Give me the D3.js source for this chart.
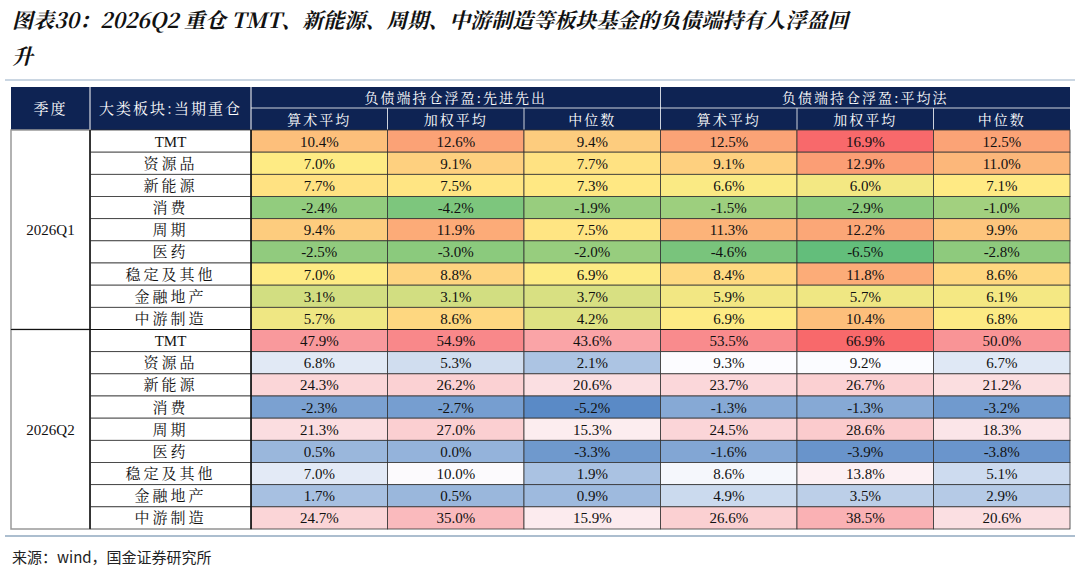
<!DOCTYPE html>
<html><head><meta charset="utf-8">
<script src="https://cdn.jsdelivr.net/npm/d3@7"></script>
<style>body{margin:0;background:#fff}</style>
</head><body>
<svg id="c" width="1080" height="571"></svg>
<script>
// table data
var quarters = ["2026Q1", "2026Q2"];
var sectors = ["TMT", "资源品", "新能源", "消费", "周期", "医药", "稳定及其他", "金融地产", "中游制造"];
var groupHeads = ["负债端持仓浮盈:先进先出", "负债端持仓浮盈:平均法"];
var subHeads = ["算术平均", "加权平均", "中位数", "算术平均", "加权平均", "中位数"];
var q1Values = [
  [10.4, 12.6, 9.4, 12.5, 16.9, 12.5],
  [7.0, 9.1, 7.7, 9.1, 12.9, 11.0],
  [7.7, 7.5, 7.3, 6.6, 6.0, 7.1],
  [-2.4, -4.2, -1.9, -1.5, -2.9, -1.0],
  [9.4, 11.9, 7.5, 11.3, 12.2, 9.9],
  [-2.5, -3.0, -2.0, -4.6, -6.5, -2.8],
  [7.0, 8.8, 6.9, 8.4, 11.8, 8.6],
  [3.1, 3.1, 3.7, 5.9, 5.7, 6.1],
  [5.7, 8.6, 4.2, 6.9, 10.4, 6.8]
];
var q2Values = [
  [47.9, 54.9, 43.6, 53.5, 66.9, 50.0],
  [6.8, 5.3, 2.1, 9.3, 9.2, 6.7],
  [24.3, 26.2, 20.6, 23.7, 26.7, 21.2],
  [-2.3, -2.7, -5.2, -1.3, -1.3, -3.2],
  [21.3, 27.0, 15.3, 24.5, 28.6, 18.3],
  [0.5, 0.0, -3.3, -1.6, -3.9, -3.8],
  [7.0, 10.0, 1.9, 8.6, 13.8, 5.1],
  [1.7, 0.5, 0.9, 4.9, 3.5, 2.9],
  [24.7, 35.0, 15.9, 26.6, 38.5, 20.6]
];

var svg = d3.select("#c");
var font = "'Liberation Serif','Noto Sans CJK SC',serif";
var cjk = "'Noto Serif CJK SC','Noto Sans CJK SC',serif";
var navy = "#0e2353";

// title
svg.append("text").attr("x", 12).attr("y", 28).attr("font-size", 21).attr("font-weight", "bold")
  .attr("font-style", "italic").attr("font-family", cjk).attr("fill", "#111")
  .text("图表30：2026Q2 重仓 TMT、新能源、周期、中游制造等板块基金的负债端持有人浮盈回");
svg.append("text").attr("x", 12).attr("y", 64).attr("font-size", 21).attr("font-weight", "bold")
  .attr("font-style", "italic").attr("font-family", cjk).attr("fill", "#111").text("升");
svg.append("line").attr("x1", 5).attr("x2", 1075).attr("y1", 80).attr("y2", 80)
  .attr("stroke", "#b8c8d8").attr("stroke-width", 1.5);

// layout scales
var left = 11, right = 1070, colStart = 251;
var xCol = d3.scaleLinear().domain([0, 6]).range([colStart, right]);
var headTop = 87, headMid = 108, bodyTop = 130, bodyBottom = 529;
var yRow = d3.scaleLinear().domain([0, 18]).range([bodyTop, bodyBottom]);
var cw = xCol(1) - xCol(0), rh = yRow(1) - yRow(0);

// header
svg.append("rect").attr("x", left).attr("y", headTop).attr("width", right - left)
  .attr("height", bodyTop - headTop).attr("fill", navy);
function headText(x, y, t, size) {
  svg.append("text").attr("x", x).attr("y", y).attr("text-anchor", "middle")
    .attr("font-size", size || 14).attr("font-family", cjk).attr("fill", "#fff")
    .attr("letter-spacing", 2).text(t);
}
headText((left + 90) / 2, 114, "季度", 15);
headText((90 + colStart) / 2, 114, "大类板块:当期重仓", 15);
groupHeads.forEach(function (g, i) {
  headText((xCol(i * 3) + xCol(i * 3 + 3)) / 2, 103, g);
});
subHeads.forEach(function (s, i) {
  headText(xCol(i) + cw / 2, 125, s);
});
// header lines
svg.append("line").attr("x1", colStart).attr("x2", right).attr("y1", headMid).attr("y2", headMid).attr("stroke", "#fff").attr("stroke-width", 0.8);
[90, colStart].forEach(function (x) {
  svg.append("line").attr("x1", x).attr("x2", x).attr("y1", headTop).attr("y2", bodyTop).attr("stroke", "#fff");
});
d3.range(1, 6).forEach(function (i) {
  svg.append("line").attr("x1", xCol(i)).attr("x2", xCol(i)).attr("y1", i === 3 ? headTop : headMid)
    .attr("y2", bodyTop).attr("stroke", "#fff").attr("stroke-width", 0.8);
});

// color scales per block
function blockScale(vals, colors) {
  var flat = d3.merge(vals).sort(d3.ascending);
  return d3.scaleLinear().domain([flat[0], d3.quantile(flat, 0.5), flat[flat.length - 1]]).range(colors);
}
var s1 = blockScale(q1Values, ["#63be7b", "#ffeb84", "#f8696b"]);
var s2 = blockScale(q2Values, ["#5a8ac6", "#fcfcff", "#f8696b"]);

[q1Values, q2Values].forEach(function (block, b) {
  var sc = b === 0 ? s1 : s2;
  block.forEach(function (row, r) {
    var ri = b * 9 + r;
    row.forEach(function (v, c) {
      svg.append("rect").attr("x", xCol(c)).attr("y", yRow(ri)).attr("width", cw).attr("height", rh)
        .attr("fill", sc(v)).attr("stroke", "#333").attr("stroke-width", 0.8);
      svg.append("text").attr("x", xCol(c) + cw / 2).attr("y", yRow(ri) + rh / 2 + 5.5)
        .attr("text-anchor", "middle").attr("font-size", 15).attr("font-family", font).attr("fill", "#111")
        .text(v.toFixed(1) + "%");
    });
    svg.append("rect").attr("x", 90).attr("y", yRow(ri)).attr("width", colStart - 90).attr("height", rh)
      .attr("fill", "#fff").attr("stroke", "#333").attr("stroke-width", 0.8);
    svg.append("text").attr("x", (90 + colStart) / 2).attr("y", yRow(ri) + rh / 2 + 5.5)
      .attr("text-anchor", "middle").attr("font-size", 15).attr("letter-spacing", sectors[r] === "TMT" ? 0 : 3)
      .attr("font-family", sectors[r] === "TMT" ? font : cjk).attr("fill", "#111").text(sectors[r]);
  });
  svg.append("rect").attr("x", left).attr("y", yRow(b * 9)).attr("width", 90 - left).attr("height", rh * 9)
    .attr("fill", "#fff").attr("stroke", "#999").attr("stroke-width", 1.5);
  svg.append("text").attr("x", (left + 90) / 2).attr("y", yRow(b * 9 + 4.5) + 5.5).attr("text-anchor", "middle")
    .attr("font-size", 15).attr("font-family", font).attr("fill", "#111").text(quarters[b]);
});
svg.append("line").attr("x1", 90).attr("x2", 90).attr("y1", bodyTop).attr("y2", bodyBottom).attr("stroke", "#111").attr("stroke-width", 1.5);
svg.append("line").attr("x1", colStart).attr("x2", colStart).attr("y1", bodyTop).attr("y2", bodyBottom).attr("stroke", "#111").attr("stroke-width", 1.5);
svg.append("line").attr("x1", left).attr("x2", right).attr("y1", yRow(9)).attr("y2", yRow(9)).attr("stroke", "#111").attr("stroke-width", 1.2);

// footer
svg.append("line").attr("x1", 5).attr("x2", 1075).attr("y1", 536).attr("y2", 536).attr("stroke", "#5a7fa0").attr("stroke-width", 1.2);
svg.append("text").attr("x", 12).attr("y", 563).attr("font-size", 15).attr("font-family", "'Noto Sans CJK SC',sans-serif")
  .attr("fill", "#222").text("来源：wind，国金证券研究所");
</script>
</body></html>
